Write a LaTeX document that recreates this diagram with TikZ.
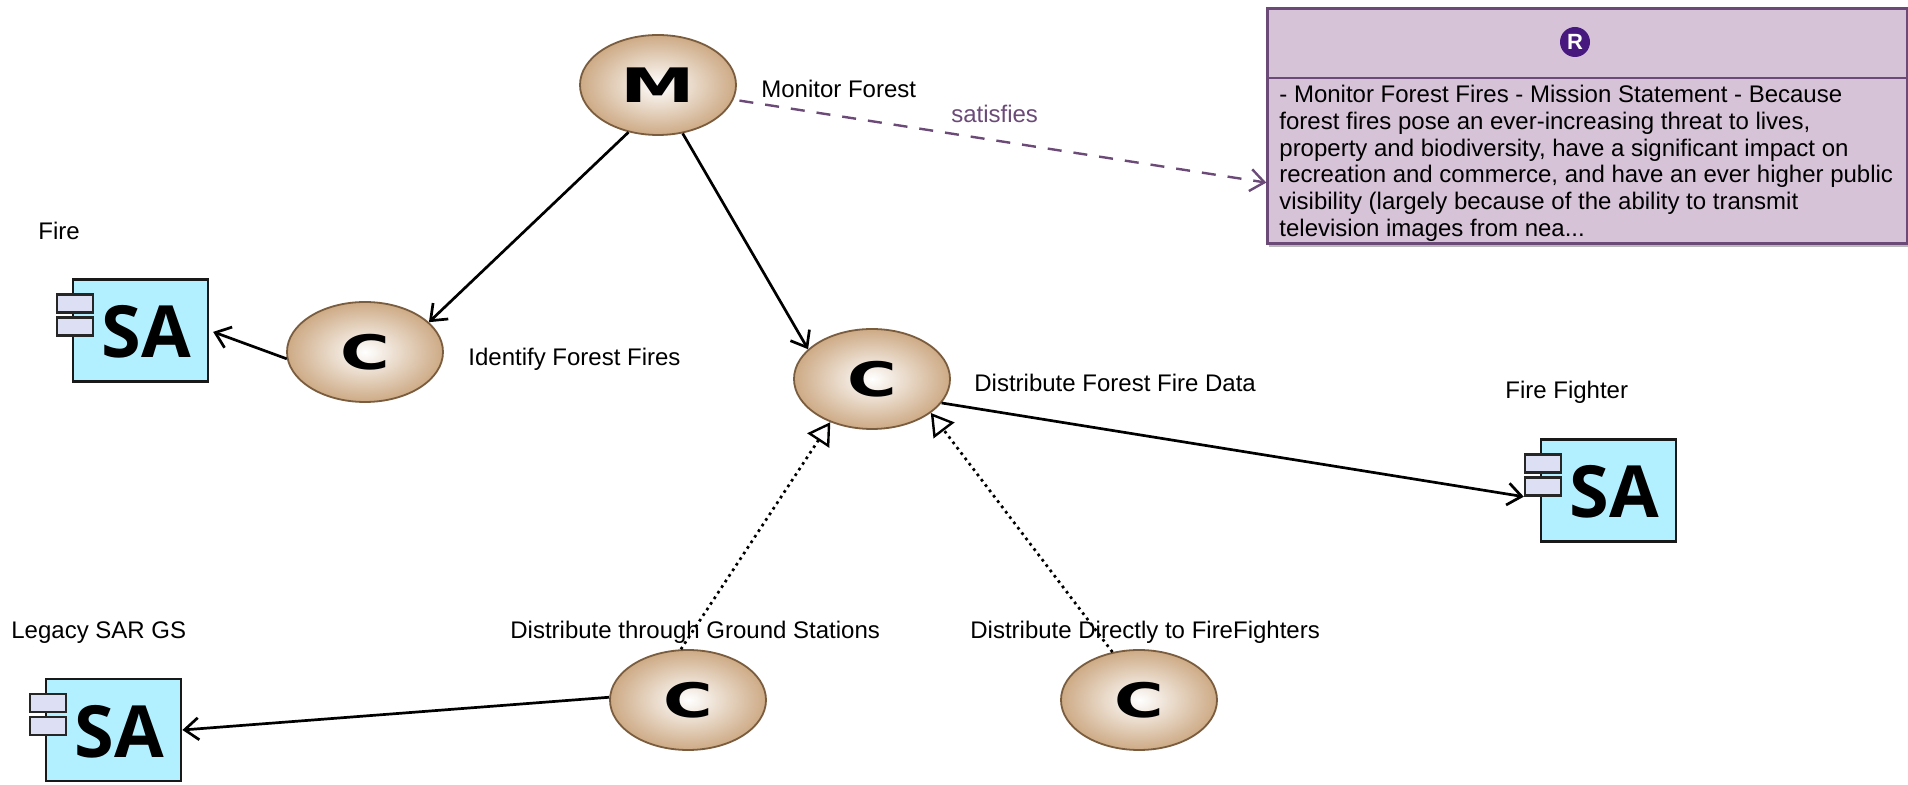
\documentclass[tikz,border=0pt]{standalone}
\usepackage{fontspec}
\setmainfont{Liberation Sans}
\newfontfamily\safont{Open Sans}
\newfontfamily\capfont{DejaVu Sans}
\usetikzlibrary{arrows.meta,shapes.geometric,shadows}
\definecolor{reqfill}{HTML}{D7C3D8}
\definecolor{reqline}{HTML}{6B4A78}
\definecolor{reqicon}{HTML}{47197F}
\definecolor{satfill}{HTML}{B3F0FF}
\definecolor{tabfill}{HTML}{DDE0F4}
\definecolor{capedge}{HTML}{7A5C3E}
\definecolor{capouter}{HTML}{CDAA85}
\tikzset{
    capnode/.style={ellipse, draw=capedge, line width=.9pt, inner sep=0pt, minimum width=78pt, minimum height=50pt, inner color=white, outer color=capouter, font=\capfont\bfseries\fontsize{25}{25}\selectfont},
    sabox/.style={draw=black!90, line width=1.4pt, fill=satfill, minimum width=67.5pt, minimum height=51pt, inner sep=0pt},
    satab/.style={draw=black!85, line width=1.2pt, fill=tabfill, minimum width=18pt, minimum height=9pt, inner sep=0pt},
    satext/.style={inner sep=0pt, font=\safont\bfseries\fontsize{36}{36}\selectfont},
    label/.style={anchor=base west, inner sep=0pt},
    link/.style={->, line width=1.35pt},
    realize/.style={-{Triangle[open,length=11pt,width=13pt,line width=1.2pt]}, line width=1.35pt, dotted},
    satisfy/.style={->, reqline, line width=1.2pt, dash pattern=on 7pt off 6pt},
}
\begin{document}
\begin{tikzpicture}[x=.5pt, y=-.5pt, >={Straight Barb[length=7pt,width=11pt]}, font=\fontsize{12}{13.35}\selectfont]
    \useasboundingbox (0,0) rectangle (1908,785);

    \node[draw=reqline, line width=1.2pt, fill=reqfill, minimum width=320pt, minimum height=117.5pt, inner sep=0pt, drop shadow={shadow xshift=.8pt, shadow yshift=-2pt, opacity=.55}] (req) at (1587.5,126) {};
    \coordinate (reqa) at (req.west |- 0,78);
    \coordinate (reqb) at (req.east |- 0,78);
    \draw[reqline, line width=1.2pt] (reqa) -- (reqb);
    \node[circle, fill=reqicon, text=white, inner sep=0pt, minimum size=15pt, font=\bfseries\fontsize{11}{11}\selectfont] (reqr) at (1575,42) {R};
    \node[anchor=north west, align=left, inner sep=0pt] (reqtext) at (1279,85) {- Monitor Forest Fires - Mission Statement - Because\\
        forest fires pose an ever-increasing threat to lives,\\
        property and biodiversity, have a significant impact on\\
        recreation and commerce, and have an ever higher public\\
        visibility (largely because of the ability to transmit\\
        television images from nea...};

    \node[capnode] (mon) at (658,85) {\scalebox{1.5}[.95]{M}};
    \node[capnode] (cid) at (365,352) {\scalebox{1.35}[.95]{C}};
    \node[capnode] (cdist) at (872,379) {\scalebox{1.35}[.95]{C}};
    \node[capnode] (cgs) at (688,700) {\scalebox{1.35}[.95]{C}};
    \node[capnode] (cff) at (1139,700) {\scalebox{1.35}[.95]{C}};

    \node[sabox] (safire) at (140.5,330.5) {};
    \node[satab] (safirea) at (75,303.5) {};
    \node[satab] (safireb) at (75,326.5) {};
    \node[satext] (safiret) at (146,332) {SA};

    \node[sabox] (saff) at (1608.5,490.5) {};
    \node[satab] (saffa) at (1543,463.5) {};
    \node[satab] (saffb) at (1543,486.5) {};
    \node[satext] (safft) at (1614,492) {SA};

    \node[sabox] (sagis) at (113.5,730) {};
    \node[satab] (sagisa) at (48,703) {};
    \node[satab] (sagisb) at (48,726) {};
    \node[satext] (sagist) at (119,731.5) {SA};

    \draw[link] (mon.238) -- (cid.25);
    \draw[link] (mon.-63) -- (cdist.155);
    \draw[satisfy, shorten <=3pt] (mon.-11.5) -- node[pos=.49, yshift=13pt, text=reqline, inner sep=0pt] (sat) {satisfies} (req.190.6);
    \draw[link, shorten >=2pt] (cid.185) -- (safire.east);
    \draw[link] (cdist.-19) -- (saffb.south west);
    \draw[link] (cgs.178) -- (sagis.east);
    \draw[realize] (cgs.98) -- (cdist.226);
    \draw[realize] (cff.119) -- (cdist.-30.5);

    \node[label] (lmon) at (761,98) {Monitor Forest};
    \node[label] (lfire) at (38,240) {Fire};
    \node[label] (lid) at (468,366) {Identify Forest Fires};
    \node[label] (ldist) at (974,392) {Distribute Forest Fire Data};
    \node[label] (lff) at (1505,399) {Fire Fighter};
    \node[label] (lgis) at (11,639) {Legacy SAR GS};
    \node[label] (lgs) at (510,639) {Distribute through Ground Stations};
    \node[label] (lddf) at (970,639) {Distribute Directly to FireFighters};
\end{tikzpicture}
\end{document}
